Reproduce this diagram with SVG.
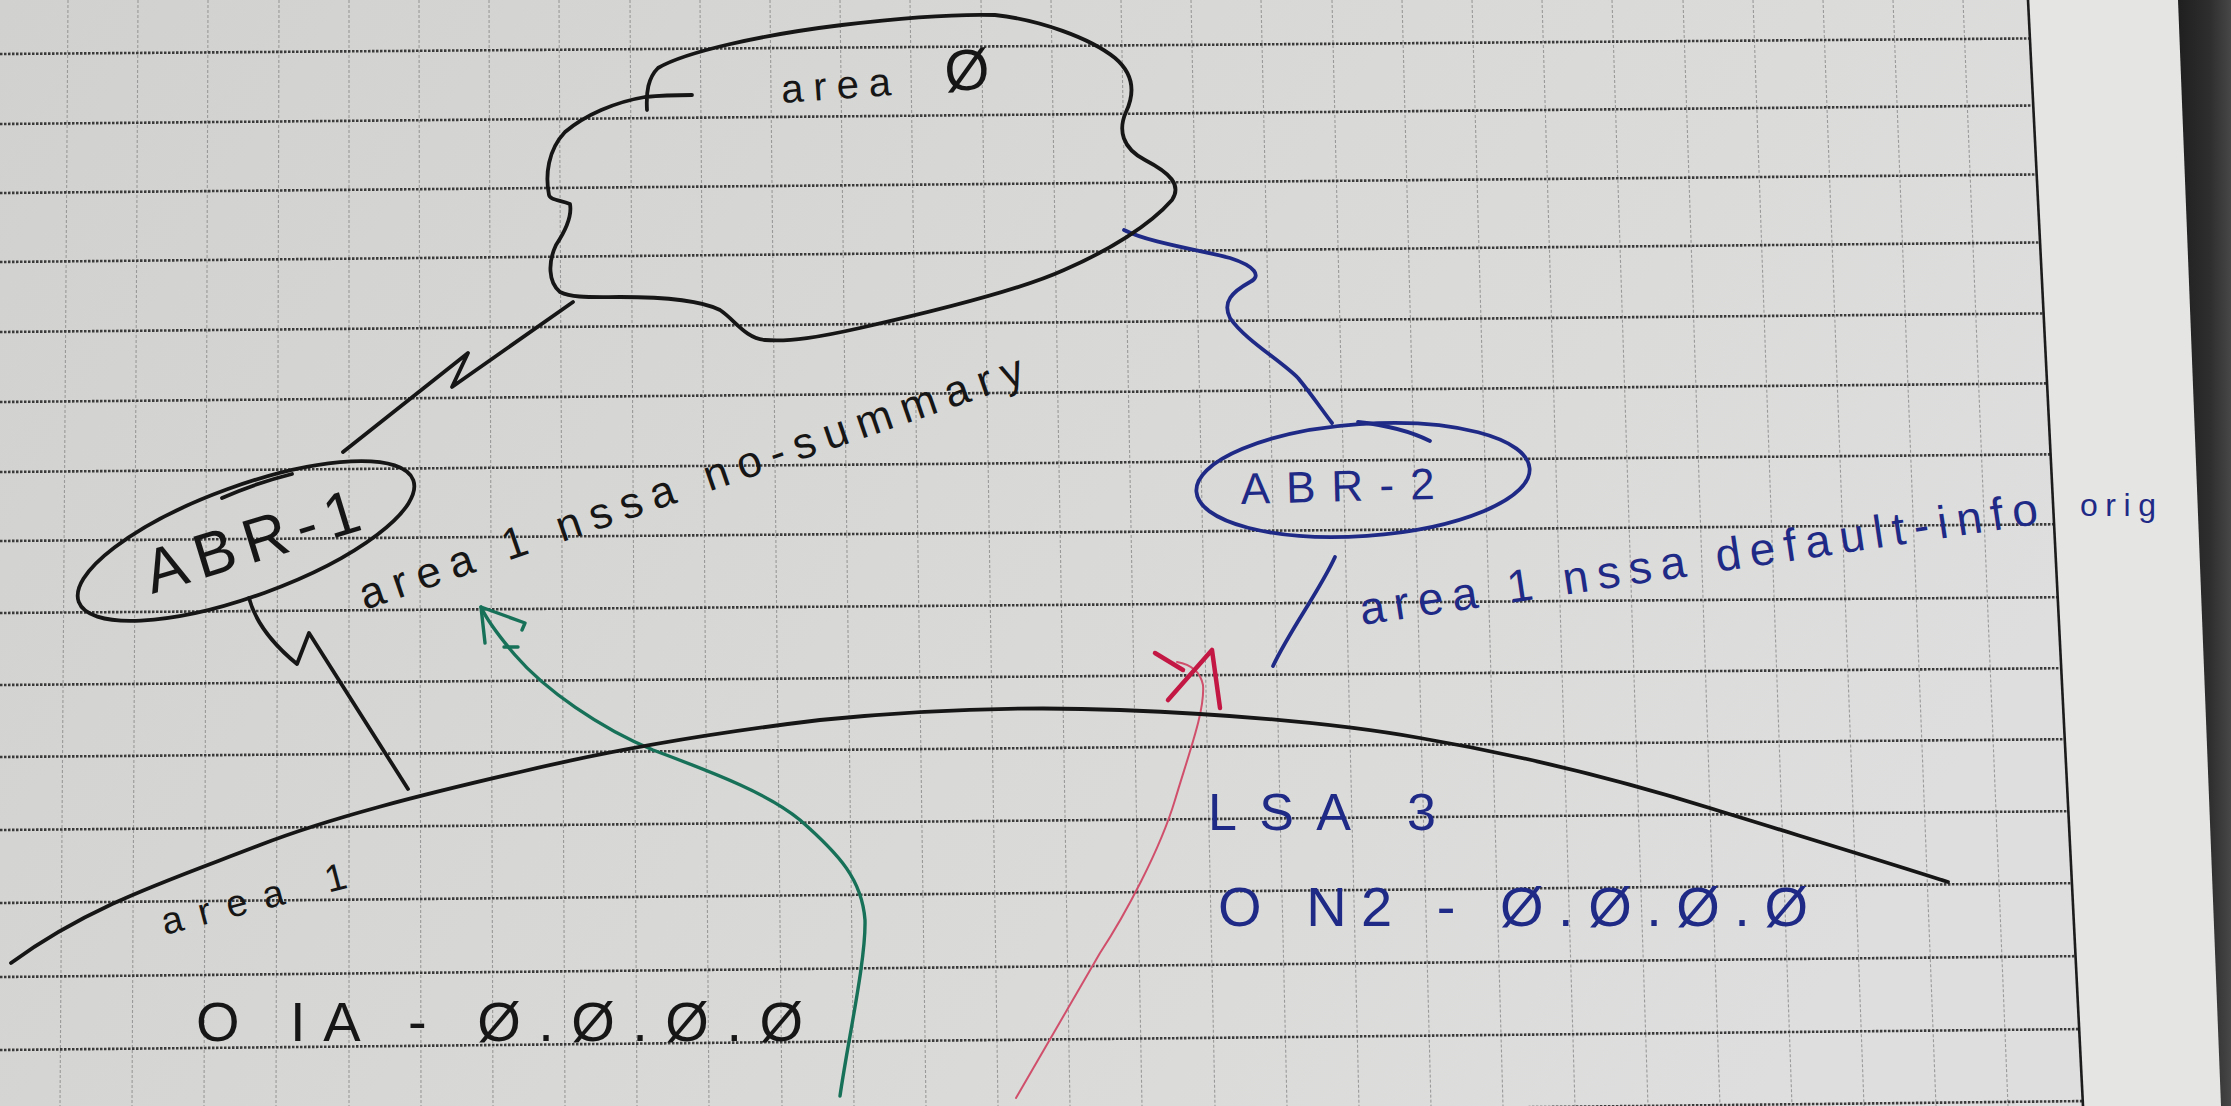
<svg xmlns="http://www.w3.org/2000/svg" width="2231" height="1106" viewBox="0 0 2231 1106">
<defs>
<linearGradient id="paper" x1="0" y1="0" x2="1" y2="0.3">
<stop offset="0" stop-color="#d1d1cf"/>
<stop offset="0.5" stop-color="#d8d8d6"/>
<stop offset="1" stop-color="#dedede"/>
</linearGradient>
<linearGradient id="edge" x1="0" y1="0" x2="1" y2="0">
<stop offset="0" stop-color="#1f1f1f"/>
<stop offset="0.6" stop-color="#2e2e2e"/>
<stop offset="1" stop-color="#474747"/>
</linearGradient>
<style>
.h{stroke:#3a3a3a;stroke-width:2.6;stroke-dasharray:2.5 1.5;fill:none}
.v{stroke:#9a9a9a;stroke-width:1.1;stroke-dasharray:3 2;fill:none}
.ink{fill:none;stroke:#161616;stroke-width:3.8;stroke-linecap:round;stroke-linejoin:round}
.blue{fill:none;stroke:#1f2a86;stroke-width:3.8;stroke-linecap:round;stroke-linejoin:round}
.green{fill:none;stroke:#177058;stroke-width:3.4;stroke-linecap:round;stroke-linejoin:round}
.red{fill:none;stroke:#c41844;stroke-width:4.5;stroke-linecap:round;stroke-linejoin:round}
.redthin{fill:none;stroke:#d0506c;stroke-width:2;stroke-linecap:round;stroke-linejoin:round}
.tk{font-family:"Liberation Sans",Arial,sans-serif;fill:#161616}
.tb{font-family:"Liberation Sans",Arial,sans-serif;fill:#1f2a86}
</style>
</defs>

<g id="paper-sheet">
<rect x="0" y="0" width="2231" height="1106" fill="url(#paper)"/>
<g id="grid-vertical" class="v">
<line x1="68" y1="0" x2="60" y2="1106"/>
<line x1="138" y1="0" x2="132" y2="1106"/>
<line x1="208" y1="0" x2="204" y2="1106"/>
<line x1="279" y1="0" x2="276" y2="1106"/>
<line x1="349" y1="0" x2="349" y2="1106"/>
<line x1="419" y1="0" x2="421" y2="1106"/>
<line x1="489" y1="0" x2="493" y2="1106"/>
<line x1="559" y1="0" x2="565" y2="1106"/>
<line x1="630" y1="0" x2="637" y2="1106"/>
<line x1="700" y1="0" x2="709" y2="1106"/>
<line x1="770" y1="0" x2="782" y2="1106"/>
<line x1="840" y1="0" x2="854" y2="1106"/>
<line x1="910" y1="0" x2="926" y2="1106"/>
<line x1="981" y1="0" x2="998" y2="1106"/>
<line x1="1051" y1="0" x2="1070" y2="1106"/>
<line x1="1121" y1="0" x2="1142" y2="1106"/>
<line x1="1191" y1="0" x2="1215" y2="1106"/>
<line x1="1261" y1="0" x2="1287" y2="1106"/>
<line x1="1332" y1="0" x2="1359" y2="1106"/>
<line x1="1402" y1="0" x2="1431" y2="1106"/>
<line x1="1472" y1="0" x2="1503" y2="1106"/>
<line x1="1542" y1="0" x2="1575" y2="1106"/>
<line x1="1612" y1="0" x2="1648" y2="1106"/>
<line x1="1683" y1="0" x2="1720" y2="1106"/>
<line x1="1753" y1="0" x2="1792" y2="1106"/>
<line x1="1823" y1="0" x2="1864" y2="1106"/>
<line x1="1893" y1="0" x2="1936" y2="1106"/>
<line x1="1963" y1="0" x2="2008" y2="1106"/>
</g>
<g id="grid-horizontal" class="h">
<line x1="0" y1="54" x2="2090" y2="38"/>
<line x1="0" y1="124" x2="2090" y2="105"/>
<line x1="0" y1="193" x2="2090" y2="174"/>
<line x1="0" y1="262" x2="2090" y2="242"/>
<line x1="0" y1="332" x2="2090" y2="313"/>
<line x1="0" y1="402" x2="2090" y2="383"/>
<line x1="0" y1="472" x2="2090" y2="454"/>
<line x1="0" y1="541" x2="2090" y2="524"/>
<line x1="0" y1="613" x2="2090" y2="597"/>
<line x1="0" y1="685" x2="2090" y2="668"/>
<line x1="0" y1="757" x2="2090" y2="739"/>
<line x1="0" y1="830" x2="2090" y2="811"/>
<line x1="0" y1="903" x2="2090" y2="883"/>
<line x1="0" y1="977" x2="2090" y2="956"/>
<line x1="0" y1="1050" x2="2090" y2="1029"/>
<line x1="0" y1="1124" x2="2090" y2="1101"/>
</g>
<polygon id="page-margin" points="2028,0 2231,0 2231,1106 2083,1106" fill="#e5e5e4"/>
<line id="margin-line" x1="2028" y1="0" x2="2083" y2="1106" stroke="#1c1c1c" stroke-width="2.6"/>
<polygon id="page-edge" points="2178,0 2231,0 2231,1106 2221,1106" fill="url(#edge)"/>
</g>

<g id="connectors">
<path id="link-abr1-area0" class="ink" d="M573,302 L452,387 L468,353 L343,452"/>
<path id="link-abr1-area1" class="ink" d="M249,598 Q258,632 297,664 L309,633 L408,789"/>
<path id="link-area0-abr2" class="blue" d="M1124,230 C1150,243 1200,250 1230,258 C1255,266 1262,276 1250,282 C1232,292 1222,302 1230,318 C1245,340 1280,360 1298,378 C1312,395 1322,410 1332,423"/>
<path id="link-abr2-area1" class="blue" d="M1335,557 C1320,590 1290,630 1273,666"/>
<path id="arrow-green" class="green" d="M840,1096 C848,1040 866,960 865,920 C862,880 840,855 800,820 C770,795 720,775 653,750 C600,728 545,690 515,655 C498,635 486,618 481,607"/>
<path id="arrow-green-head" class="green" d="M485,643 L481,607 L525,623 L522,630 M504,647 L518,647"/>
<path id="arrow-red" class="redthin" d="M1016,1098 L1100,953 C1125,915 1160,850 1175,800 C1190,750 1205,710 1203,685 C1200,670 1188,664 1177,662"/>
<path id="arrow-red-head" class="red" d="M1168,700 L1212,650 L1220,708 M1155,653 L1183,670"/>
</g>

<g id="area0">
<path class="ink" d="M647,110 C646,92 648,78 658,68 C685,52 760,35 842,25 C900,18 960,14 995,15 C1040,20 1090,38 1115,58 C1135,75 1134,95 1126,112 C1118,130 1122,148 1145,160 C1170,173 1182,185 1172,200 C1150,225 1110,250 1064,270 C1020,290 940,310 860,328 C820,337 790,342 765,340 C745,338 735,320 720,310 C700,300 660,297 620,297 C590,297 572,298 560,292 C548,282 548,262 556,245 C566,230 572,215 570,204 C560,200 550,200 549,195 C545,175 548,150 565,132 C585,115 615,102 645,97 C665,95 680,95 692,95"/>
<text class="tk" x="782" y="103" font-size="40" transform="rotate(-4 782 103)"><tspan letter-spacing="10">area</tspan><tspan x="930" font-size="58"> Ø</tspan></text>
</g>

<g id="abr1">
<ellipse class="ink" cx="246" cy="541" rx="178" ry="55" transform="rotate(-20 246 541)"/>
<path class="ink" d="M292,474 C268,480 240,490 222,498"/>
<text class="tk" x="152" y="594" font-size="62" textLength="222" lengthAdjust="spacing" transform="rotate(-17 152 594)">ABR-1</text>
</g>

<g id="abr1-label">
<text class="tk" x="365" y="610" font-size="44" textLength="700" lengthAdjust="spacing" transform="rotate(-19 365 610)">area 1 nssa no-summary</text>
</g>

<g id="abr2">
<ellipse class="blue" cx="1363" cy="480" rx="167" ry="56" transform="rotate(-4 1363 480)"/>
<path class="blue" d="M1358,422 C1385,425 1412,432 1430,441"/>
<text class="tb" x="1241" y="504" font-size="44" textLength="194" lengthAdjust="spacing" transform="rotate(-1.5 1241 504)">ABR-2</text>
</g>

<g id="abr2-label">
<text class="tb" x="1362" y="625" font-size="46" textLength="685" lengthAdjust="spacing" transform="rotate(-8.5 1362 625)">area 1 nssa default-info</text>
<text class="tb" x="2080" y="516" font-size="32" textLength="76" lengthAdjust="spacing">orig</text>
</g>

<g id="area1">
<path class="ink" d="M11,963 C90,905 170,880 260,845 C330,818 420,795 520,772 C620,748 720,732 820,720 C920,710 1020,706 1120,710 C1220,714 1330,722 1420,738 C1520,755 1620,780 1713,809 C1800,836 1880,860 1948,882 L1942,880"/>
<text class="tk" x="165" y="935" font-size="38" textLength="190" lengthAdjust="spacing" transform="rotate(-14.5 165 935)">area 1</text>
</g>

<g id="route-ia">
<text class="tk" x="196" y="1041" font-size="56" textLength="607" lengthAdjust="spacing">O IA - Ø.Ø.Ø.Ø</text>
</g>

<g id="lsa3">
<text class="tb" x="1208" y="830" font-size="52" textLength="228" lengthAdjust="spacing">LSA 3</text>
<text class="tb" x="1218" y="926" font-size="56" textLength="590" lengthAdjust="spacing">O N2 - Ø.Ø.Ø.Ø</text>
</g>
</svg>
